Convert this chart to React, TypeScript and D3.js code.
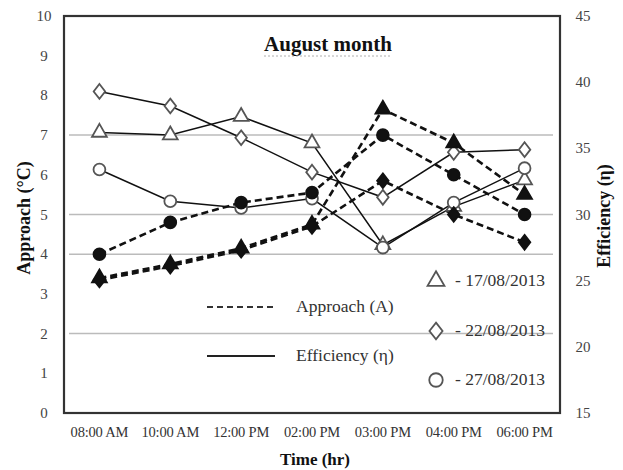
import * as d3 from 'd3'

const times = ["08:00 AM", "10:00 AM", "12:00 PM", "02:00 PM", "03:00 PM", "04:00 PM", "06:00 PM"]
const dates = ["17/08/2013", "22/08/2013", "27/08/2013"]
const leftTicks = [0, 1, 2, 3, 4, 5, 6, 7, 8, 9, 10]
const rightTicks = [15, 20, 25, 30, 35, 40, 45]
const gridValues = [2, 4, 5, 7]

// approach (left axis, dashed, filled markers)
const approach17 = [3.4, 3.75, 4.15, 4.75, 7.65, 6.8, 5.5]
const approach22 = [3.35, 3.7, 4.1, 4.7, 5.85, 5.0, 4.3]
const approach27 = [4.0, 4.8, 5.3, 5.55, 7.0, 6.0, 5.0]
// efficiency (right axis, solid, open markers)
const efficiency17 = [36.2, 36.0, 37.4, 35.4, 27.7, 30.6, 32.6]
const efficiency22 = [39.3, 38.2, 35.8, 33.2, 31.3, 34.7, 34.9]
const efficiency27 = [33.4, 31.0, 30.5, 31.2, 27.5, 30.9, 33.5]

const W = 623
const H = 470
const plot = { left: 64, right: 560, top: 16, bottom: 413 }
const FONT = '"Liberation Serif", "DejaVu Serif", serif'

// rhombus a bit wider than d3's own diamond
const rhombus = {
    draw(ctx: any, size: number) {
        const h = Math.sqrt(size) * 0.8
        const w = h * 0.78
        ctx.moveTo(0, -h)
        ctx.lineTo(w, 0)
        ctx.lineTo(0, h)
        ctx.lineTo(-w, 0)
        ctx.closePath()
    }
}

const shapes = [d3.symbolTriangle, rhombus, d3.symbolCircle]
const sizes = [95, 85, 110]

const x = d3.scalePoint<string>().domain(times).range([plot.left, plot.right]).padding(0.5)
const yLeft = d3.scaleLinear().domain([0, 10]).range([plot.bottom, plot.top])
const yRight = d3.scaleLinear().domain([15, 45]).range([plot.bottom, plot.top])

const Marker = ({ cx, cy, shape, size, filled }: any) => {
    const path = d3.symbol().type(shape).size(size)()
    return <path d={path as string} transform={`translate(${cx},${cy})`}
        fill={filled ? "#111" : "#fff"} stroke={filled ? "#111" : "#555"} strokeWidth={1.8} />
}

const Series = ({ vals, scale, dashed }: any) => {
    const line = d3.line<number>()
        .x((d, i) => x(times[i]) as number)
        .y(d => scale(d))
    return <path d={line(vals) as string} fill="none" stroke="#111"
        strokeWidth={dashed ? 2.6 : 1.5} strokeDasharray={dashed ? "7,4" : undefined} />
}

const SeriesMarkers = ({ vals, scale, idx, filled }: any) => (
    <g>
        {vals.map((v: number, i: number) =>
            <Marker key={i} cx={x(times[i])} cy={scale(v)} shape={shapes[idx]} size={sizes[idx]} filled={filled} />)}
    </g>
)

export default function App() {
    const approach = [approach17, approach22, approach27]
    const efficiency = [efficiency17, efficiency22, efficiency27]
    const legendY = [281, 331, 380]

    return (
        <svg width={W} height={H} style={{ position: 'absolute', left: 0, top: 0, background: '#fff' }}
            fontFamily={FONT}>
            <rect width={W} height={H} fill="#fff" />
            {gridValues.map(v =>
                <line key={v} x1={plot.left + 5} x2={plot.right - 7} y1={yLeft(v)} y2={yLeft(v)}
                    stroke="#bbb" strokeWidth={1.5} />)}

            {efficiency.map((vals, i) => <Series key={'e' + i} vals={vals} scale={yRight} dashed={false} />)}
            {approach.map((vals, i) => <Series key={'a' + i} vals={vals} scale={yLeft} dashed={true} />)}
            {efficiency.map((vals, i) => <SeriesMarkers key={'em' + i} vals={vals} scale={yRight} idx={i} filled={false} />)}
            {approach.map((vals, i) => <SeriesMarkers key={'am' + i} vals={vals} scale={yLeft} idx={i} filled={true} />)}

            <rect x={plot.left} y={plot.top} width={plot.right - plot.left} height={plot.bottom - plot.top}
                fill="none" stroke="#333" strokeWidth={2.2} />

            <text x={328} y={51} textAnchor="middle" fontWeight="bold" fontSize={21} fill="#111">August month</text>
            <line x1={264} x2={392} y1={56} y2={56} stroke="#999" strokeWidth={0.8} strokeDasharray="2,2" />

            {leftTicks.map(t =>
                <text key={t} x={44} y={yLeft(t) + 5} textAnchor="middle" fontSize={15} fill="#444">{t}</text>)}
            {rightTicks.map(t =>
                <text key={t} x={583} y={yRight(t) + 5} textAnchor="middle" fontSize={15} fill="#444">{t}</text>)}
            {times.map(t =>
                <text key={t} x={x(t)} y={437} textAnchor="middle" fontSize={14.5} letterSpacing={-0.2} fill="#333">{t}</text>)}

            <text x={315} y={465} textAnchor="middle" fontWeight="bold" fontSize={17} fill="#111">Time (hr)</text>
            <text transform="translate(30,218) rotate(-90)" textAnchor="middle" fontWeight="bold" fontSize={18} fill="#111">Approach (°C)</text>
            <text transform="translate(610,216) rotate(-90)" textAnchor="middle" fontWeight="bold" fontSize={18} fill="#111">Efficiency (η)</text>

            <line x1={207} x2={277} y1={307} y2={307} stroke="#333" strokeWidth={2} strokeDasharray="6,4" />
            <text x={296} y={312} fontSize={17.5} fill="#333">Approach (A)</text>
            <line x1={207} x2={275} y1={356} y2={356} stroke="#222" strokeWidth={2} />
            <text x={296} y={361} fontSize={17.5} fill="#333">Efficiency (η)</text>

            {dates.map((d, i) =>
                <g key={d}>
                    <Marker cx={436} cy={legendY[i]} shape={shapes[i]} size={sizes[i] * 1.3} filled={false} />
                    <text x={455} y={legendY[i] + 5} fontSize={17.5} fill="#333">- {d}</text>
                </g>)}
        </svg>
    )
}
